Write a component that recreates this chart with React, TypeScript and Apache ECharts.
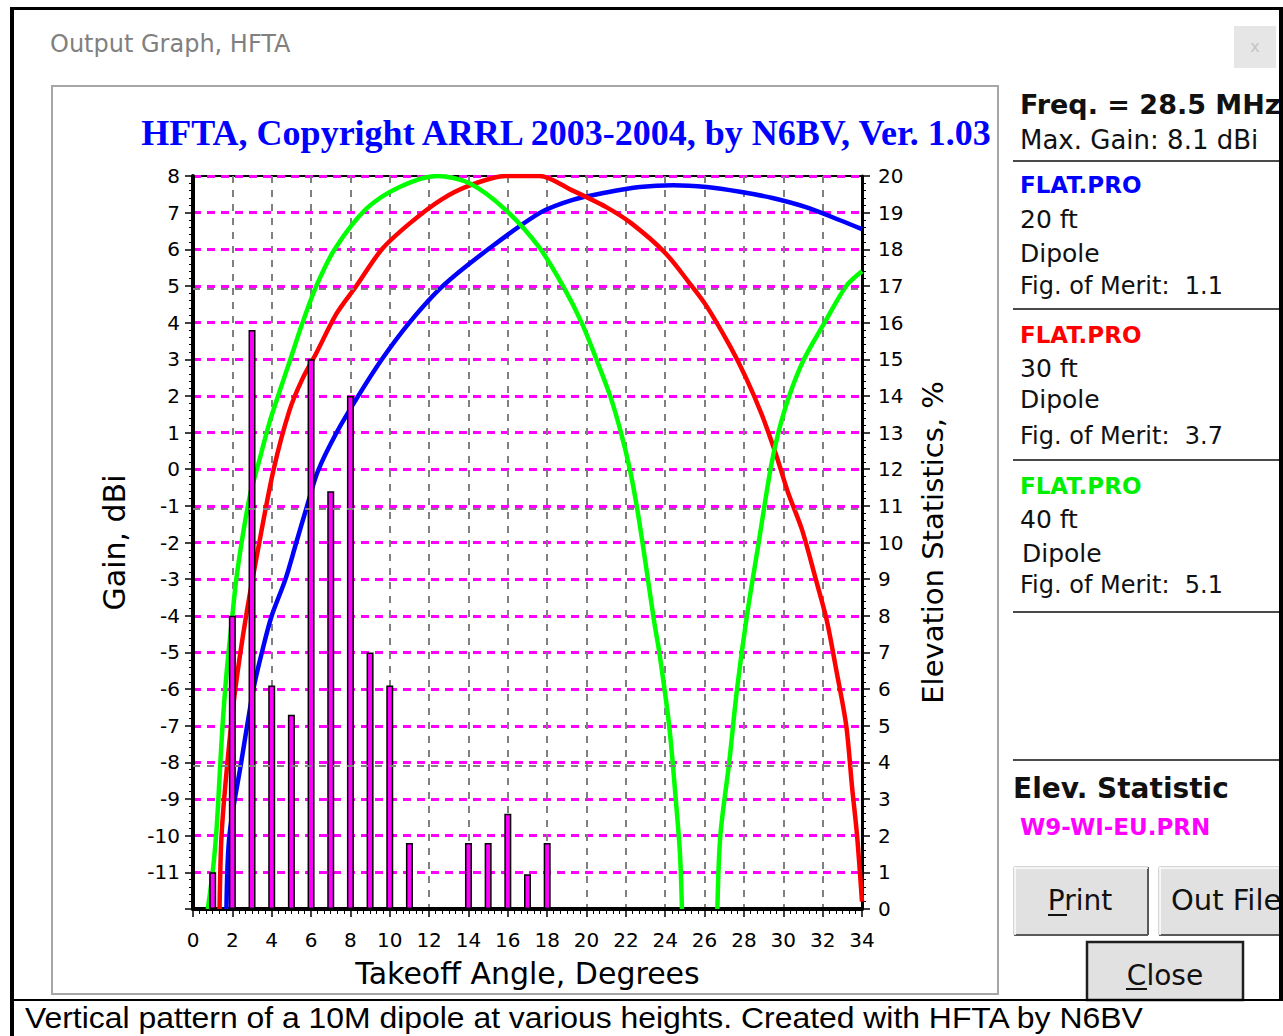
import React, { useEffect, useRef } from "react";
import * as echarts from "echarts";

// ---- data ----
const chartTitle = "HFTA, Copyright ARRL 2003-2004, by N6BV, Ver. 1.03";
const xName = "Takeoff Angle, Degrees";
const yLeftName = "Gain, dBi";
const yRightName = "Elevation Statistics, %";

// gain curves: [takeoff angle (deg), gain (dBi)]
const blue20ft: any[] = [
  [1.7, -12], [1.85, -10], [2.45, -8], [3.07, -6], [3.5, -5], [4.0, -4],
  [4.7, -3], [5.25, -2], [5.8, -1.0], [6.35, -0.05], [7.3, 1.0], [8.4, 2.0],
  [9.6, 3.0], [11.0, 4.0], [12.7, 5.0], [15.0, 6.0], [17.65, 7], [19.3, 7.35],
  [21.0, 7.55], [22.7, 7.7], [24.4, 7.75], [26.1, 7.7], [27.8, 7.57], [29.45, 7.4],
  [31.15, 7.15], [32.85, 6.8], [34, 6.55],
];
const red30ft: any[] = [
  [1.35, -12], [1.45, -10], [1.75, -8], [2.15, -6], [2.7, -4], [3.37, -2],
  [4.1, 0], [4.9, 1.6], [5.55, 2.45], [6.25, 3.15], [7.3, 4.25], [8.3, 5.0],
  [9.6, 6.0], [11.0, 6.7], [12.6, 7.35], [14.1, 7.75], [15.9, 8.0], [17.6, 8.0],
  [19.3, 7.6], [21.0, 7.15], [22.3, 6.7], [24.0, 5.9], [25.2, 5.1], [26.1, 4.45],
  [27.3, 3.35], [28.1, 2.5], [28.9, 1.5], [29.6, 0.45], [30.25, -0.65],
  [30.95, -1.65], [31.65, -3.0], [32.2, -4.1], [32.7, -5.5], [33.2, -7.0],
  [33.5, -8.7], [33.75, -10.0], [34, -11.8],
];
const green40ft: any[] = [
  [0.75, -12], [1.0, -11], [1.2, -9.8], [1.35, -8.4], [1.5, -7.0], [1.7, -5.6],
  [2.0, -4.0], [2.2, -3.0], [2.5, -1.9], [2.9, -0.7], [3.3, 0.1], [3.9, 1.3],
  [4.45, 2.2], [4.95, 3.0], [5.57, 4.0], [6.27, 5.0], [7.2, 6.0], [8.8, 7.1],
  [10.5, 7.7], [12.4, 8.0], [14.05, 7.8], [15.9, 7.07], [17.6, 6.05], [18.8, 5.0],
  [19.75, 4.0], [20.5, 3.0], [21.2, 2.0], [21.75, 1.0], [22.2, 0], [22.55, -1.0],
  [22.9, -2.2], [23.2, -3.3], [23.45, -4.2], [23.7, -5.0], [24.2, -7.0],
  [24.55, -9.1], [24.75, -10.5], [24.85, -12], [25.7, "-"], [26.65, -12],
  [26.8, -10], [27.25, -8], [27.65, -6], [28.15, -4], [28.75, -2], [29.35, 0],
  [29.75, 1], [30.3, 2], [31.05, 3], [32.1, 4], [33.2, 5], [34, 5.4],
];

// elevation statistics bars (right axis, %)
const statAngles = [1, 2, 3, 4, 5, 6, 7, 8, 9, 10, 11, 14, 15, 16, 17, 18];
const statPercent = [1.0, 8.0, 15.8, 6.1, 5.3, 15.0, 11.4, 14.0, 7.0, 6.1, 1.8, 1.8, 1.8, 2.6, 0.95, 1.8];

// gray reference lines (gain, dBi)
const grayGainLines = [-8, -1, 5];

// right panel text
const freqText = "Freq. = 28.5 MHz";
const maxGainText = "Max. Gain: 8.1 dBi";
const modelFiles = ["FLAT.PRO", "FLAT.PRO", "FLAT.PRO"];
const modelColors = ["#0000ff", "#ff0000", "#00ee00"];
const modelHeights = ["20 ft", "30 ft", "40 ft"];
const modelTypes = ["Dipole", "Dipole", "Dipole"];
const modelMerits = ["1.1", "3.7", "5.1"];
const statTitle = "Elev. Statistic";
const statFile = "W9-WI-EU.PRN";
const windowTitle = "Output Graph, HFTA";
const caption = "Vertical pattern of a 10M dipole at various heights. Created with HFTA by N6BV";

const SANS = "DejaVu Sans";

export default function App() {
  const ref = useRef<HTMLDivElement>(null);

  useEffect(() => {
    if (!ref.current) return;
    const chart = echarts.init(ref.current, undefined, { renderer: "svg" });

    const txt = (x: number, y: number, text: string, o: any = {}) => ({
      type: "text",
      x,
      y,
      scaleX: o.scaleX || 1,
      silent: true,
      z: 20,
      style: {
        text,
        fill: o.fill || "#111",
        font: o.font || `25px "${SANS}"`,
        textAlign: o.align || "left",
        textVerticalAlign: "middle",
      },
    });
    const rect = (x: number, y: number, w: number, h: number, style: any, z = 15) => ({
      type: "rect",
      silent: true,
      z,
      shape: { x, y, width: w, height: h },
      style,
    });
    const hline = (x1: number, x2: number, y: number, stroke: string, w: number, z = 16) => ({
      type: "line",
      silent: true,
      z,
      shape: { x1, y1: y, x2, y2: y },
      style: { stroke, lineWidth: w },
    });
    const vline = (x: number, y1: number, y2: number, stroke: string, w: number, z = 16) => ({
      type: "line",
      silent: true,
      z,
      shape: { x1: x, y1, x2: x, y2 },
      style: { stroke, lineWidth: w },
    });

    const blockY = [[185, 219, 253, 286], [335, 368, 399, 436], [486, 519, 553, 585]];
    const panelTexts: any[] = [];
    modelFiles.forEach((f, i) => {
      const [y1, y2, y3, y4] = blockY[i];
      panelTexts.push(txt(1020, y1, f, { fill: modelColors[i], font: `bold 23px "${SANS}"` }));
      panelTexts.push(txt(1020, y2, modelHeights[i]));
      panelTexts.push(txt(i === 2 ? 1022 : 1020, y3, modelTypes[i]));
      panelTexts.push(txt(1020, y4, `Fig. of Merit:  ${modelMerits[i]}`, { font: `24px "${SANS}"` }));
    });

    const button = (x: number, y: number, w: number, h: number) => [
      rect(x, y, w, h, { fill: "#e1e1e1", stroke: "#adadad", lineWidth: 1 }),
      hline(x, x + w, y + h, "#5a5a5a", 2),
      vline(x + w, y, y + h, "#5a5a5a", 2),
      hline(x, x + w, y + 1, "#ffffff", 1.5),
      vline(x + 1, y, y + h, "#ffffff", 1.5),
    ];

    const graphics: any[] = [
      // window frame
      rect(10, 7, 1273, 3, { fill: "#000" }, 30),
      rect(10, 7, 4, 1029, { fill: "#000" }, 30),
      rect(1279, 7, 4, 994, { fill: "#000" }, 30),
      rect(10, 999, 1273, 2, { fill: "#000" }, 30),
      txt(50, 44, windowTitle, { fill: "#808080", font: `24px "${SANS}"` }),
      rect(1234, 26, 42, 42, { fill: "#e6e6e6" }),
      txt(1255, 46, "x", { fill: "#c4c4c4", font: `16px "${SANS}"`, align: "center" }),
      // chart panel
      rect(52, 86, 946, 908, { fill: "none", stroke: "#a6a6a6", lineWidth: 2 }, 1),
      // right panel
      txt(1020, 104, freqText, { font: `bold 27px "${SANS}"` }),
      txt(1020, 140, maxGainText, { font: `26px "${SANS}"` }),
      hline(1013, 1280, 161, "#4a4a4a", 2),
      hline(1013, 1280, 309, "#4a4a4a", 2),
      hline(1013, 1280, 460, "#4a4a4a", 2),
      hline(1013, 1280, 612, "#4a4a4a", 2),
      hline(1013, 1280, 760, "#4a4a4a", 2),
      ...panelTexts,
      txt(1013, 788, statTitle, { font: `bold 28px "${SANS}"` }),
      txt(1020, 827, statFile, { fill: "#ff00ff", font: `bold 23px "${SANS}"` }),
      // buttons
      ...button(1014, 867, 134, 68),
      ...button(1159, 867, 130, 68),
      rect(1087, 942, 156, 58, { fill: "#e1e1e1", stroke: "#1e1e1e", lineWidth: 2.5 }),
      txt(1080, 900, "Print", { font: `28px "${SANS}"`, align: "center" }),
      hline(1048, 1067, 915, "#111", 2),
      txt(1171, 900, "Out File", { font: `29px "${SANS}"` }),
      txt(1165, 975, "Close", { font: `28px "${SANS}"`, align: "center" }),
      hline(1126, 1147, 989, "#111", 2),
      // caption
      txt(25, 1018, caption, { fill: "#000", font: `29px "Liberation Sans"`, scaleX: 1.1 }),
    ];

    const lineSeries = (name: string, data: any[], color: string) => ({
      name,
      type: "line",
      xAxisIndex: 0,
      yAxisIndex: 0,
      data,
      showSymbol: false,
      symbol: "none",
      smooth: 0.3,
      connectNulls: false,
      clip: true,
      z: 3,
      lineStyle: { color, width: 4.5 },
      itemStyle: { color },
    });

    chart.setOption({
      animation: false,
      backgroundColor: "#ffffff",
      title: {
        text: chartTitle,
        left: 561,
        top: 110,
        textAlign: "center",
        textStyle: {
          fontFamily: "Liberation Serif",
          fontWeight: "bold",
          fontSize: 36,
          color: "#0000ff",
        },
      },
      grid: {
        left: 193,
        top: 176,
        width: 669,
        height: 733,
        show: true,
        borderColor: "#000",
        borderWidth: 2,
        backgroundColor: "transparent",
        containLabel: false,
        outerBoundsMode: "none",
      },
      xAxis: {
        type: "value",
        min: 0,
        max: 34,
        interval: 2,
        name: xName,
        nameLocation: "middle",
        nameGap: 49,
        nameTextStyle: { fontFamily: SANS, fontSize: 30, color: "#000" },
        axisLine: { show: true, onZero: false, lineStyle: { color: "#000", width: 4 } },
        axisTick: { show: true, inside: false, length: 8, lineStyle: { color: "#000", width: 1.5 } },
        minorTick: { show: true, splitNumber: 6, length: 5, lineStyle: { color: "#000", width: 1 } },
        axisLabel: { color: "#000", fontFamily: SANS, fontSize: 20, margin: 21 },
        splitLine: { show: true, lineStyle: { color: "#808080", width: 2, type: [7, 7] } },
        minorSplitLine: { show: false },
      },
      yAxis: [
        {
          type: "value",
          position: "left",
          min: -12,
          max: 8,
          interval: 1,
          name: yLeftName,
          nameLocation: "middle",
          nameGap: 64,
          nameTextStyle: { fontFamily: SANS, fontSize: 30, color: "#000" },
          axisLine: { show: true, onZero: false, lineStyle: { color: "#000", width: 4 } },
          axisTick: { show: true, inside: false, length: 8, lineStyle: { color: "#000", width: 1.5 } },
          minorTick: { show: true, splitNumber: 5, length: 4, lineStyle: { color: "#000", width: 1 } },
          axisLabel: {
            color: "#000",
            fontFamily: SANS,
            fontSize: 20,
            margin: 13,
            formatter: (v: number) => (v === -12 ? "" : String(v)),
          },
          splitLine: { show: false },
        },
        {
          type: "value",
          position: "right",
          min: 0,
          max: 20,
          interval: 1,
          name: yRightName,
          nameLocation: "middle",
          nameGap: 56,
          nameTextStyle: { fontFamily: SANS, fontSize: 29, color: "#000" },
          axisLine: { show: true, onZero: false, lineStyle: { color: "#000", width: 3 } },
          axisTick: { show: true, inside: false, length: 8, lineStyle: { color: "#000", width: 1.5 } },
          minorTick: { show: true, splitNumber: 5, length: 4, lineStyle: { color: "#000", width: 1 } },
          axisLabel: { color: "#000", fontFamily: SANS, fontSize: 20, margin: 16 },
          splitLine: { show: true, lineStyle: { color: "#ff00ff", width: 3, type: [8, 6] } },
        },
      ],
      series: [
        {
          name: "Elevation statistic",
          type: "bar",
          xAxisIndex: 0,
          yAxisIndex: 1,
          barWidth: 7,
          z: 4,
          data: statAngles.map((a, i) => [a, statPercent[i]]),
          itemStyle: { color: "#ff00ff", borderColor: "#000", borderWidth: 1.5 },
          markLine: {
            silent: true,
            symbol: "none",
            label: { show: false },
            lineStyle: { color: "#808080", width: 2, type: [7, 7] },
            data: grayGainLines.map((g) => ({ yAxis: g + 12 - 0.08 })),
          },
        },
        lineSeries("20 ft", blue20ft, "#0000ff"),
        lineSeries("30 ft", red30ft, "#ff0000"),
        lineSeries("40 ft", green40ft, "#00ff00"),
      ],
      graphic: { elements: graphics },
    });

    return () => chart.dispose();
  }, []);

  return (
    <div
      ref={ref}
      style={{ position: "fixed", left: 0, top: 0, width: 1283, height: 1036, background: "#fff" }}
    />
  );
}
